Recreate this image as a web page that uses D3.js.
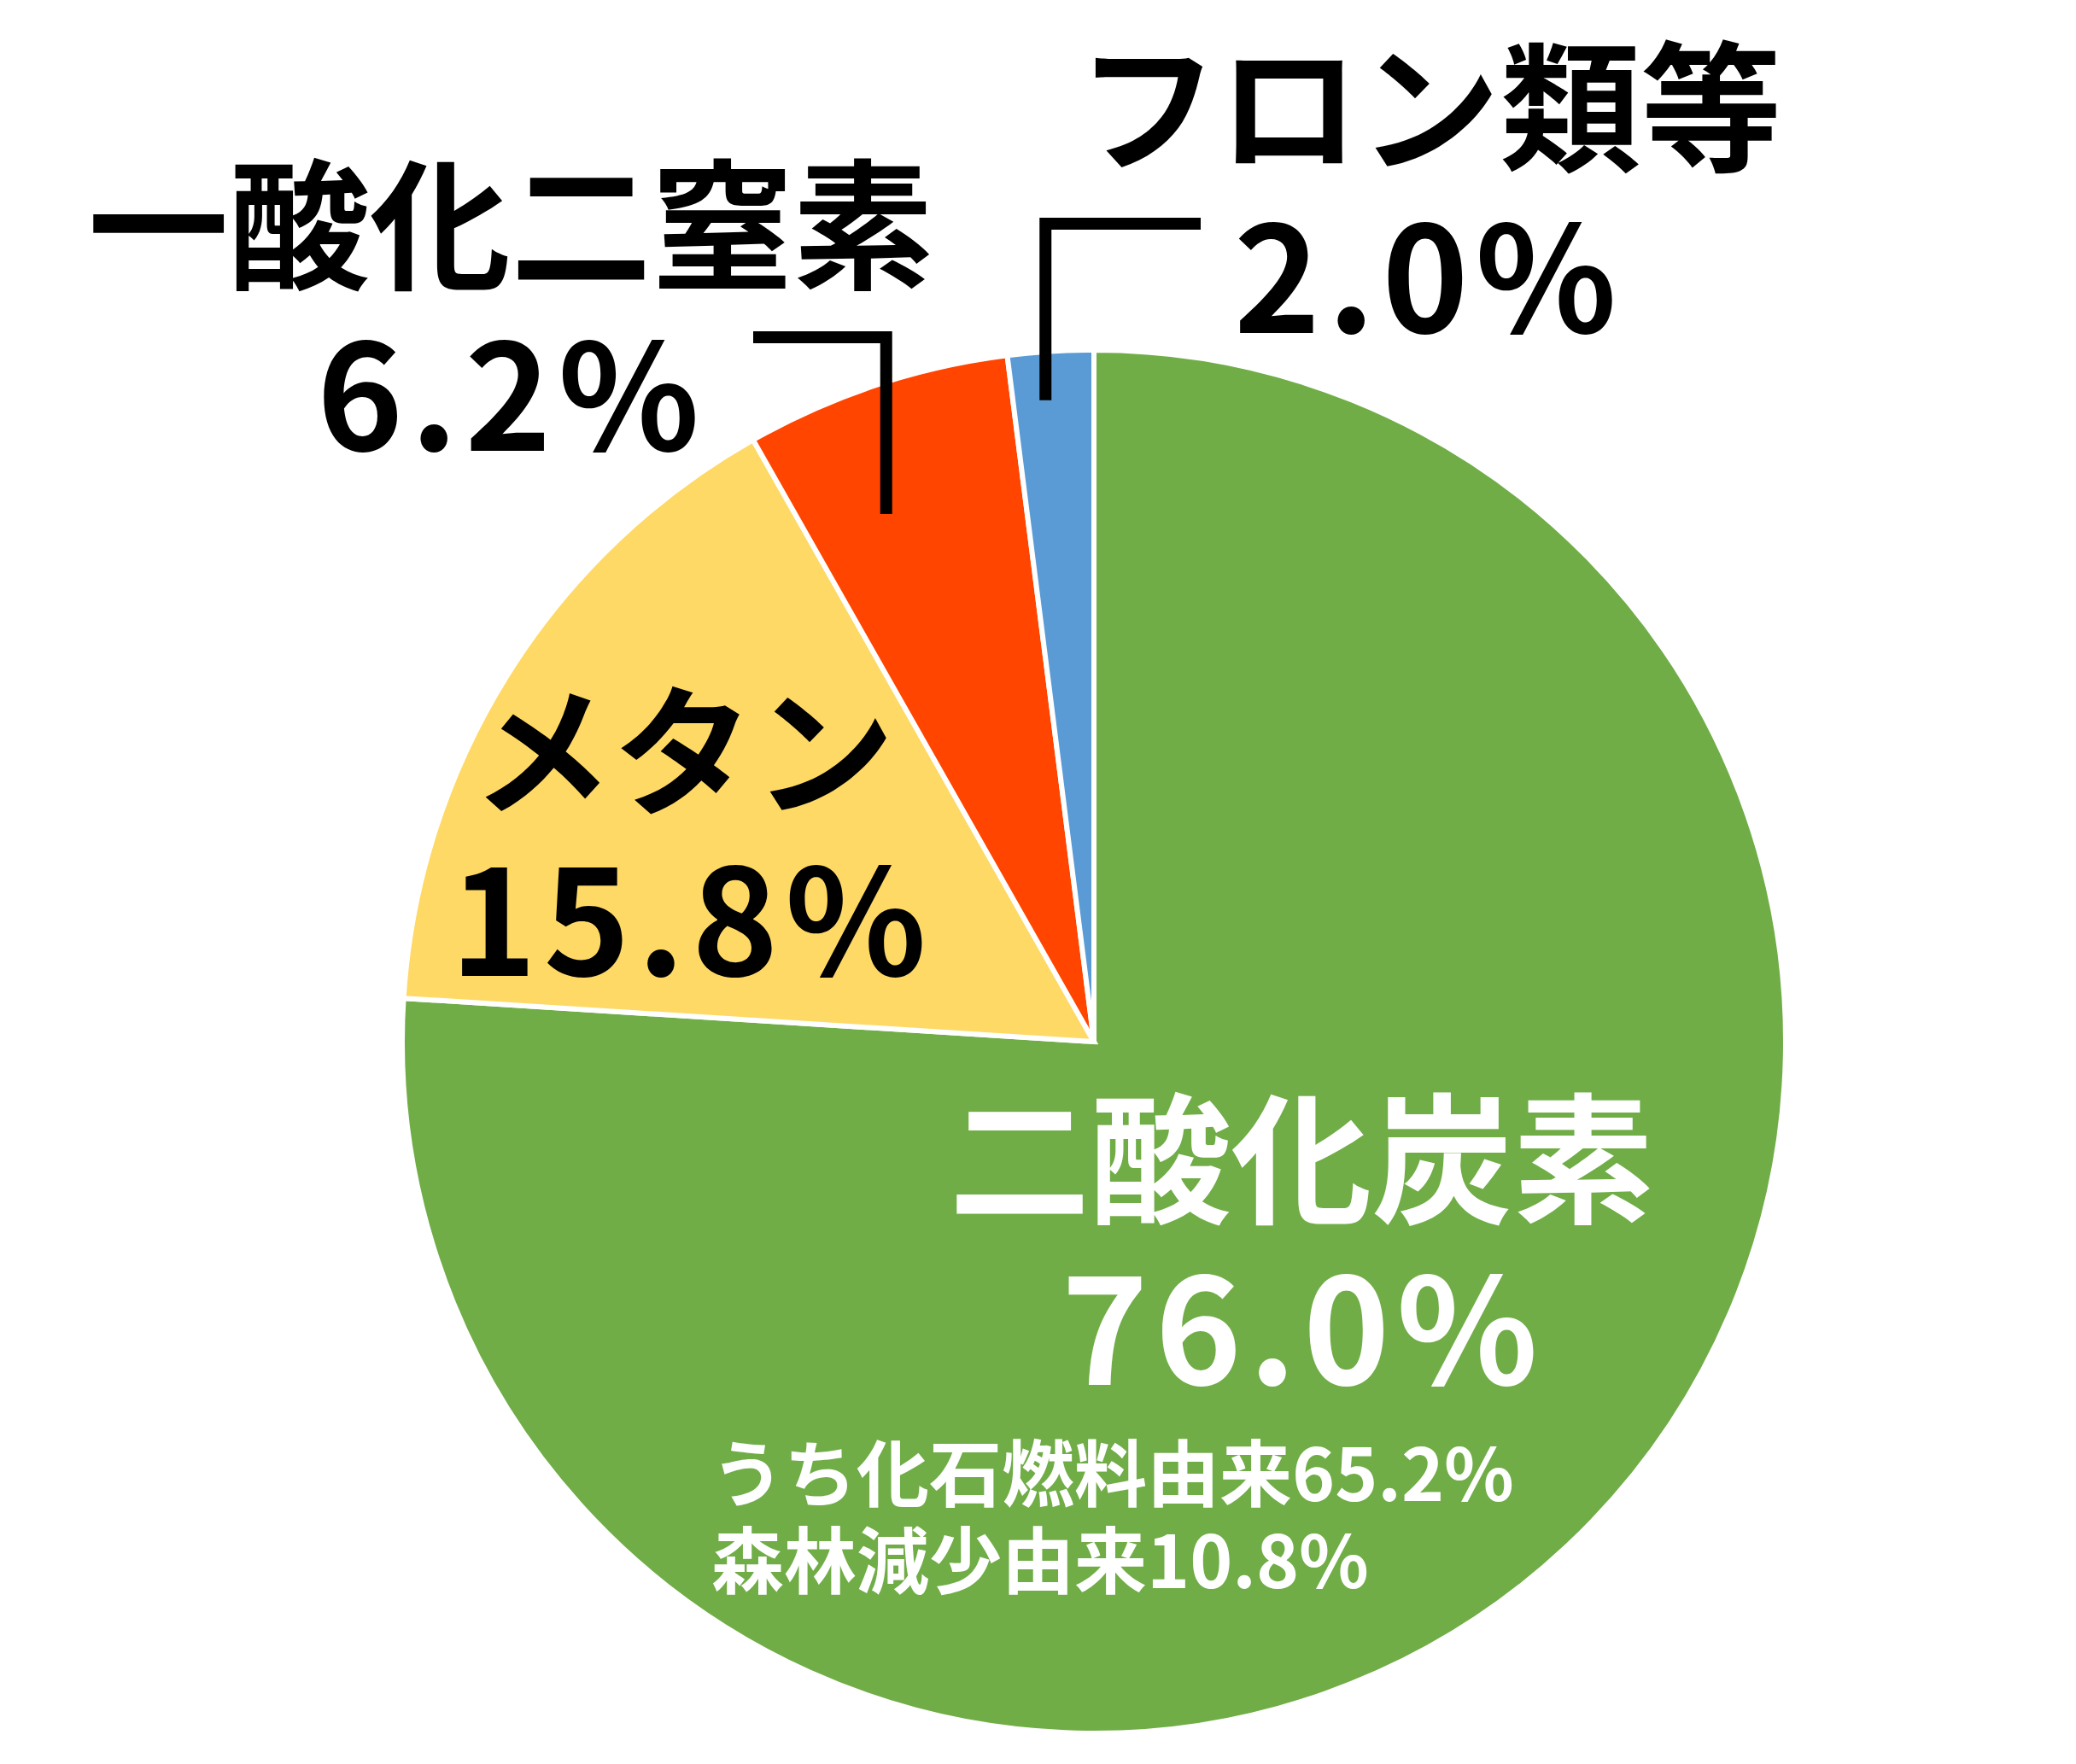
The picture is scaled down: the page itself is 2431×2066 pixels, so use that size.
<!DOCTYPE html>
<html lang="ja">
<head>
<meta charset="UTF-8">
<title>温室効果ガス</title>
<script src="https://cdn.jsdelivr.net/npm/d3@7"></script>
<style>
  body { margin: 0; background: #fff; }
  text { font-family: "Noto Sans CJK JP", "Noto Sans", sans-serif; font-weight: 700; }
</style>
</head>
<body>
<script>
  // data
  const categories = ["二酸化炭素", "メタン", "一酸化二窒素", "フロン類等"]
  const values = [76.0, 15.8, 6.2, 2.0]
  const colors = ["#70AD47", "#FFD966", "#FF4500", "#5B9BD5"]
  const co2Breakdown = ["うち化石燃料由来65.2%", "森林減少由来10.8%"]

  const W = 2431, H = 2066
  const cx = 1281, cy = 1220, R = 810
  const ls = 8 // letter spacing of the percentages

  const svg = d3.select("body").append("svg")
      .attr("width", W)
      .attr("height", H)

  const g = svg.append("g")
      .attr("transform", "translate(" + cx + "," + cy + ")")

  const pie = d3.pie().sort(null).value(d => d)
  const arcs = pie(values)
  const arc = d3.arc().innerRadius(0).outerRadius(R)

  g.selectAll(".slice")
    .data(arcs)
    .enter()
      .append("path")
      .attr("class", "slice")
      .attr("d", arc)
      .attr("fill", (d, i) => colors[i])
      .attr("stroke", "#fff")
      .attr("stroke-width", 6)

  // label layout, relative to the pie centre
  const layout = [
    {name: {x: 243, y: 200, fs: 165}, pct: {x: 241, y: 402, fs: 172}, fill: "#fff"},
    {name: {x: -481, y: -278, fs: 165}, pct: {x: -475, y: -77, fs: 172}, fill: "#000"},
    {name: {x: -683, y: -894, fs: 165}, pct: {x: -686, y: -692, fs: 172}, fill: "#000"},
    {name: {x: 393, y: -1032, fs: 165}, pct: {x: 388, y: -830, fs: 172}, fill: "#000"}
  ]

  const labels = g.selectAll(".label")
    .data(arcs)
    .enter()
      .append("g")
      .attr("class", "label")

  labels.append("text")
    .attr("x", (d, i) => layout[i].name.x)
    .attr("y", (d, i) => layout[i].name.y)
    .attr("font-size", (d, i) => layout[i].name.fs)
    .attr("text-anchor", "middle")
    .attr("fill", (d, i) => layout[i].fill)
    .text((d, i) => categories[i])

  labels.append("text")
    .attr("x", (d, i) => layout[i].pct.x + ls / 2)
    .attr("y", (d, i) => layout[i].pct.y)
    .attr("font-size", (d, i) => layout[i].pct.fs)
    .attr("letter-spacing", ls)
    .attr("text-anchor", "middle")
    .attr("fill", (d, i) => layout[i].fill)
    .text(d => d.value.toFixed(1) + "%")

  g.selectAll(".sub")
    .data(co2Breakdown)
    .enter()
      .append("text")
      .attr("class", "sub")
      .attr("x", -448)
      .attr("y", (d, i) => 538 + i * 102)
      .attr("font-size", 85)
      .attr("fill", "#fff")
      .text(d => d)

  // leader lines for the two small slices: f = position across the slice
  const leaders = [
    {i: 2, f: 0.36, k: 0.82, top: -825, end: -399},
    {i: 3, f: 0.40, k: 0.93, top: -958, end: 125}
  ]
  leaders.forEach(l => {
    const s = arcs[l.i]
    const a = s.startAngle + l.f * (s.endAngle - s.startAngle)
    const px = Math.sin(a) * R * l.k, py = -Math.cos(a) * R * l.k
    g.append("path")
      .attr("d", d3.line()([[l.end, l.top], [px, l.top], [px, py]]))
      .attr("fill", "none")
      .attr("stroke", "#000")
      .attr("stroke-width", 14)
  })
</script>
</body>
</html>
